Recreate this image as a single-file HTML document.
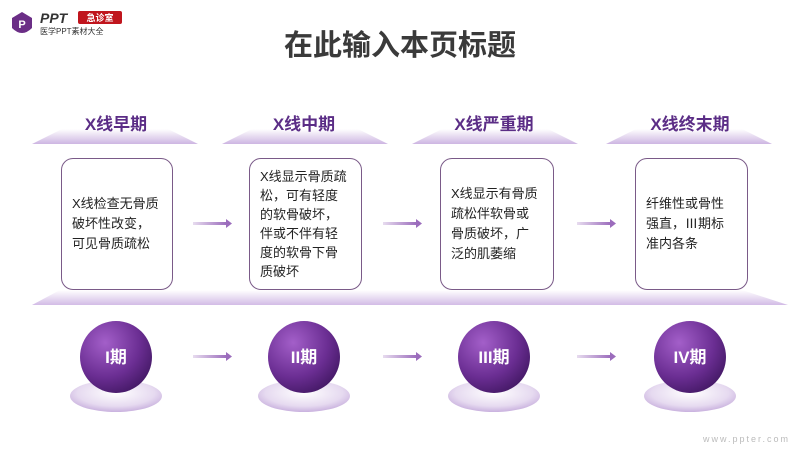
<!DOCTYPE html>
<html><head><meta charset="utf-8"><style>
body{margin:0;width:800px;height:450px;background:#fff;overflow:hidden;font-family:"Liberation Sans","Noto Sans CJK SC",sans-serif}
svg{position:absolute;left:0;top:0}
.card{position:absolute;top:158px;height:132px;border:1px solid #7a5a88;border-radius:12px;background:#fff;box-sizing:border-box;display:flex;align-items:center;padding:0 0 0 10px;font-size:13px;line-height:19px;color:#222;white-space:nowrap}
.h{position:absolute;top:110px;width:140px;text-align:center;font-weight:bold;font-size:17px;color:#5b2d86}
.t{position:absolute;top:22px;width:800px;text-align:center;font-size:29px;font-weight:bold;color:#3a3a3a}
.s{position:absolute;top:343px;width:80px;text-align:center;font-size:17px;font-weight:bold;color:#fff}
</style></head><body>
<svg width="800" height="450">
<defs>
<linearGradient id="tr" x1="0" y1="0" x2="0" y2="1"><stop offset="0" stop-color="#fff"/><stop offset="1" stop-color="#cdb6e2"/></linearGradient>
<linearGradient id="bd" x1="0" y1="0" x2="0" y2="1"><stop offset="0" stop-color="#fff"/><stop offset="1" stop-color="#d2bce6"/></linearGradient>
<linearGradient id="ar" x1="0" y1="0" x2="1" y2="0"><stop offset="0" stop-color="#e7dcef"/><stop offset="1" stop-color="#9b6cbc"/></linearGradient>
<radialGradient id="sp" cx="0.35" cy="0.3" r="0.8"><stop offset="0" stop-color="#a35fc9"/><stop offset="0.6" stop-color="#6b2e93"/><stop offset="1" stop-color="#3f1660"/></radialGradient>
<radialGradient id="pl" cx="0.5" cy="0.4" r="0.6"><stop offset="0" stop-color="#fff"/><stop offset="0.7" stop-color="#e6daf0"/><stop offset="1" stop-color="#c9b1de"/></radialGradient>
</defs>
<path d="M12 18 L22 12 L32 18 L32 28 Q22 38 12 28 Z" fill="#6b2e86"/>
<text x="22" y="28" font-size="11" font-weight="bold" fill="#fff" text-anchor="middle">P</text>
<text x="40" y="23" font-size="14" font-weight="bold" font-style="italic" fill="#333">PPT</text>
<rect x="78" y="11" width="44" height="13" rx="2" fill="#c0151d"/>
<text x="100" y="21" font-size="9" fill="#fff" text-anchor="middle" font-weight="bold">急诊室</text>
<text x="40" y="34" font-size="8" fill="#333">医学PPT素材大全</text>
<g fill="url(#tr)">
<polygon points="32,144 198,144 168,129 62,129"/>
<polygon points="222,144 388,144 358,129 252,129"/>
<polygon points="412,144 578,144 548,129 442,129"/>
<polygon points="606,144 772,144 742,129 636,129"/>
</g>
<polygon points="60,290 742,290 788,305 32,305" fill="url(#bd)"/>
<g fill="url(#ar)">
<rect x="193" y="222" width="34" height="3"/><polygon points="226,219 232,223.5 226,228" fill="#9b6cbc"/>
<rect x="383" y="222" width="34" height="3"/><polygon points="416,219 422,223.5 416,228" fill="#9b6cbc"/>
<rect x="577" y="222" width="34" height="3"/><polygon points="610,219 616,223.5 610,228" fill="#9b6cbc"/>
<rect x="193" y="355" width="34" height="3"/><polygon points="226,352 232,356.5 226,361" fill="#9b6cbc"/>
<rect x="383" y="355" width="34" height="3"/><polygon points="416,352 422,356.5 416,361" fill="#9b6cbc"/>
<rect x="577" y="355" width="34" height="3"/><polygon points="610,352 616,356.5 610,361" fill="#9b6cbc"/>
</g>
<g fill="url(#pl)">
<ellipse cx="116" cy="396" rx="46" ry="16"/><ellipse cx="304" cy="396" rx="46" ry="16"/><ellipse cx="494" cy="396" rx="46" ry="16"/><ellipse cx="690" cy="396" rx="46" ry="16"/>
</g>
<g fill="url(#sp)">
<circle cx="116" cy="357" r="36"/><circle cx="304" cy="357" r="36"/><circle cx="494" cy="357" r="36"/><circle cx="690" cy="357" r="36"/>
</g>
<text x="790" y="442" font-size="9" fill="#bbb" text-anchor="end" letter-spacing="2">www.ppter.com</text>
</svg>
<div class="t">在此输入本页标题</div>
<div class="h" style="left:46px">X线早期</div>
<div class="h" style="left:234px">X线中期</div>
<div class="h" style="left:424px">X线严重期</div>
<div class="h" style="left:620px">X线终末期</div>
<div class="card" style="left:61px;width:112px;line-height:20px"><div>X线检查无骨质<br>破坏性改变，<br>可见骨质疏松</div></div>
<div class="card" style="left:249px;width:113px;line-height:19px"><div>X线显示骨质疏<br>松，可有轻度<br>的软骨破坏，<br>伴或不伴有轻<br>度的软骨下骨<br>质破坏</div></div>
<div class="card" style="left:440px;width:114px;line-height:20px"><div>X线显示有骨质<br>疏松伴软骨或<br>骨质破坏，广<br>泛的肌萎缩</div></div>
<div class="card" style="left:635px;width:113px;line-height:20px"><div>纤维性或骨性<br>强直，Ⅲ期标<br>准内各条</div></div>
<div class="s" style="left:76px">I期</div>
<div class="s" style="left:264px">II期</div>
<div class="s" style="left:454px">III期</div>
<div class="s" style="left:650px">IV期</div>
</body></html>
